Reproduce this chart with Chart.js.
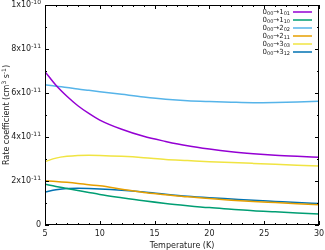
<!DOCTYPE html>
<html>
<head>
<meta charset="utf-8">
<script src="https://cdn.jsdelivr.net/npm/chart.js@4"></script>
<style>
  html, body { margin: 0; padding: 0; background: #fff; }
  #wrap { width: 325px; height: 250px; }
</style>
</head>
<body>
<div id="wrap"><canvas id="chart" width="325" height="250"></canvas></div>
<script>
// temperatures (K) and rate coefficients in units of 1e-11 cm3 s-1
const temps = [5, 6, 7, 8, 9, 10, 12, 14, 16, 18, 20, 22, 24, 26, 28, 30];
const k101 = [6.97, 6.35, 5.85, 5.42, 5.07, 4.77, 4.35, 4.03, 3.80, 3.60, 3.45, 3.33, 3.24, 3.17, 3.12, 3.08];
const k110 = [1.85, 1.75, 1.66, 1.57, 1.48, 1.39, 1.24, 1.10, 0.98, 0.88, 0.79, 0.72, 0.65, 0.60, 0.55, 0.50];
const k202 = [6.38, 6.31, 6.25, 6.18, 6.12, 6.06, 5.94, 5.82, 5.72, 5.65, 5.61, 5.58, 5.56, 5.57, 5.59, 5.62];
const k211 = [2.01, 1.98, 1.94, 1.89, 1.83, 1.78, 1.63, 1.48, 1.38, 1.28, 1.20, 1.13, 1.07, 1.02, 0.97, 0.92];
const k303 = [2.88, 3.04, 3.12, 3.16, 3.17, 3.16, 3.12, 3.06, 2.98, 2.93, 2.88, 2.84, 2.80, 2.76, 2.72, 2.68];
const k312 = [1.50, 1.60, 1.66, 1.67, 1.66, 1.64, 1.58, 1.50, 1.40, 1.31, 1.24, 1.18, 1.12, 1.07, 1.02, 0.98];

// legend parts: [J, Ka Kc] for the final state
const finals = [["1", "01"], ["1", "10"], ["2", "02"], ["2", "11"], ["3", "03"], ["3", "12"]];
const colors = ["#9400d3", "#009e73", "#56b4e9", "#e69f00", "#f0e442", "#0072b2"];
const series = [k101, k110, k202, k211, k303, k312];

// y tick labels: [mantissa, exponent]
const yLabels = { 10: ["1", "-10"], 8: ["8", "-11"], 6: ["6", "-11"], 4: ["4", "-11"], 2: ["2", "-11"], 0: ["0", null] };

const FONT = "DejaVu Sans";

const frame = {
  id: "frame",
  afterDraw(chart) {
    const ctx = chart.ctx;
    const a = chart.chartArea;
    const xs = chart.scales.x;
    const ys = chart.scales.y;
    ctx.save();
    ctx.strokeStyle = "#000";
    ctx.lineWidth = 1;
    ctx.strokeRect(Math.round(a.left) + 0.5, Math.round(a.top) + 0.5,
      Math.round(a.right - a.left) - 1, Math.round(a.bottom - a.top) - 1);

    // ticks pointing inward, mirrored
    ctx.beginPath();
    for (let t = 5; t <= 30; t++) {
      const px = Math.round(xs.getPixelForValue(t)) + 0.5;
      const len = t % 5 === 0 ? 4 : 2;
      ctx.moveTo(px, a.bottom); ctx.lineTo(px, a.bottom - len);
      ctx.moveTo(px, a.top); ctx.lineTo(px, a.top + len);
    }
    for (let v = 0; v <= 10; v++) {
      const py = Math.round(ys.getPixelForValue(v)) + 0.5;
      const len = v % 2 === 0 ? 4 : 2;
      ctx.moveTo(a.left, py); ctx.lineTo(a.left + len, py);
      ctx.moveTo(a.right, py); ctx.lineTo(a.right - len, py);
    }
    ctx.stroke();

    ctx.fillStyle = "#222";
    // x tick labels
    ctx.font = "8px '" + FONT + "'";
    ctx.textAlign = "center";
    ctx.textBaseline = "middle";
    for (let t = 5; t <= 30; t += 5) {
      ctx.fillText(String(t), xs.getPixelForValue(t), a.bottom + 9);
    }
    // y tick labels with superscript exponent
    ctx.textBaseline = "middle";
    ctx.textAlign = "left";
    Object.keys(yLabels).forEach(k => {
      const [m, e] = yLabels[k];
      const py = ys.getPixelForValue(Number(k));
      const base = e ? m + "x10" : m;
      ctx.font = "8px '" + FONT + "'";
      const bw = ctx.measureText(base).width;
      let ew = 0;
      if (e) { ctx.font = "6px '" + FONT + "'"; ew = ctx.measureText(e).width; }
      const x0 = a.left - 4 - bw - ew;
      ctx.font = "8px '" + FONT + "'";
      ctx.fillText(base, x0, py);
      if (e) {
        ctx.font = "6px '" + FONT + "'";
        ctx.fillText(e, x0 + bw, py - 3);
      }
    });

    // axis titles
    ctx.font = "8px '" + FONT + "'";
    ctx.textAlign = "center";
    ctx.fillText("Temperature (K)", (a.left + a.right) / 2, a.bottom + 21);

    ctx.save();
    ctx.translate(7, (a.top + a.bottom) / 2);
    ctx.rotate(-Math.PI / 2);
    const parts = [["Rate coefficient (cm", 0], ["3", 1], [" s", 0], ["-1", 1], [")", 0]];
    let total = 0;
    parts.forEach(([s, sup]) => {
      ctx.font = (sup ? "6px '" : "8px '") + FONT + "'";
      total += ctx.measureText(s).width;
    });
    let cx = -total / 2;
    ctx.textAlign = "left";
    parts.forEach(([s, sup]) => {
      ctx.font = (sup ? "6px '" : "8px '") + FONT + "'";
      ctx.fillText(s, cx, sup ? -3 : 0);
      cx += ctx.measureText(s).width;
    });
    ctx.restore();

    // legend: text right aligned, line sample to the right
    chart.data.datasets.forEach((ds, i) => {
      const y = a.top + 7 + i * 8;
      const [j, kk] = finals[i];
      const pieces = [["0", 0], ["00", 1], ["\u2192", 0], [j, 0], [kk, 1]];
      let w = 0;
      pieces.forEach(([s, sub]) => {
        ctx.font = (sub ? "5px '" : "7px '") + FONT + "'";
        w += ctx.measureText(s).width;
      });
      let lx = 290 - w;
      ctx.textAlign = "left";
      ctx.textBaseline = "middle";
      pieces.forEach(([s, sub]) => {
        ctx.font = (sub ? "5px '" : "7px '") + FONT + "'";
        ctx.fillText(s, lx, sub ? y + 2 : y);
        lx += ctx.measureText(s).width;
      });
      ctx.strokeStyle = ds.borderColor;
      ctx.lineWidth = 1.5;
      ctx.beginPath();
      ctx.moveTo(293, y);
      ctx.lineTo(312, y);
      ctx.stroke();
    });
    ctx.restore();
  }
};

const canvas = document.getElementById("chart");

new Chart(canvas, {
  type: "line",
  data: {
    datasets: series.map((vals, i) => ({
      label: "0_00->" + finals[i][0] + "_" + finals[i][1],
      data: temps.map((t, n) => ({ x: t, y: vals[n] })),
      borderColor: colors[i],
      borderWidth: 1.5,
      pointRadius: 0,
      cubicInterpolationMode: "monotone",
      fill: false,
    })),
  },
  options: {
    responsive: false,
    animation: false,
    events: [],
    layout: {
      padding: { left: 45, right: 6, top: 5, bottom: 25 },
    },
    plugins: {
      legend: { display: false },
      tooltip: { enabled: false },
    },
    scales: {
      x: { type: "linear", min: 5, max: 30, display: false },
      y: { type: "linear", min: 0, max: 10, display: false },
    },
  },
  plugins: [frame],
});
</script>
</body>
</html>
